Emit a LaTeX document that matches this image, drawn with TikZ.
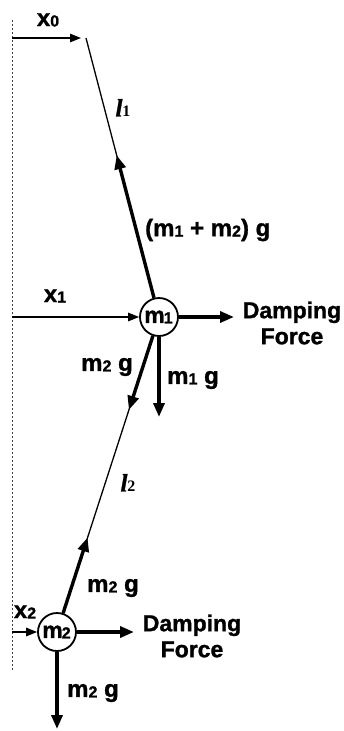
\documentclass[tikz,border=0pt]{standalone}
\usepackage{fontspec}
\setmainfont{Liberation Sans}[BoldFeatures={FakeBold=1.2}]
\newfontfamily\lfont{Liberation Serif}[BoldItalicFeatures={FakeBold=1}]
\usetikzlibrary{arrows.meta,calc}
\newcommand\sbx[1]{\raisebox{-0.5pt}{\fontsize{16}{16}\selectfont #1}}
\newcommand\sby[1]{\raisebox{-0.5pt}{\fontsize{16}{16}\selectfont #1}}
\begin{document}
\begin{tikzpicture}[x=1pt,y=-1pt,
  lbl/.style={font=\fontsize{24}{26}\selectfont\bfseries, inner sep=0pt},
  dlbl/.style={font=\fontsize{23}{26}\selectfont\bfseries, inner sep=0pt, align=center},
  mass/.style={circle, draw, line width=1.8pt, minimum size=38pt, inner sep=0pt, font=\fontsize{23}{23}\selectfont\bfseries},
  thin arrow/.style={line width=1.4pt, -{Triangle[length=11pt,width=8.5pt]}},
  force/.style={line width=3.4pt, -{Triangle[length=14pt,width=11pt]}},
  rod/.style={line width=1.3pt},
  wall/.style={line width=0.7pt, dash pattern=on 2pt off 2pt, black!75}]
\useasboundingbox (0,0) rectangle (343,731);
% wall
\coordinate (wt) at (12,20);
\coordinate (wb) at (12,670);
\draw[wall] (wt) -- (wb);
% pivot and masses
\coordinate (P) at (86,38);
\node[mass] (m1) at (159,317) {\kern-1pt m\kern-1pt\sbx{1}};
\node[mass] (m2) at (57,632) {\kern-1pt m\kern-1pt\sbx{2}};
% rods
\draw[rod] (P) -- (m1);
\draw[rod] (m1) -- (m2);
% x arrows
\coordinate (x0s) at (12,38);
\coordinate (x0e) at (81,38);
\draw[thin arrow] (x0s) -- (x0e);
\coordinate (x1s) at (12,317);
\draw[thin arrow] (x1s) -- (m1);
\coordinate (x2s) at (12,632);
\draw[thin arrow] (x2s) -- (m2);
% forces at m1
\draw[force] (m1) -- ($(m1)!0.58!(P)$);
\draw[force] (m1) -- ($(m1)!0.295!(m2)$);
\coordinate (m1g) at (159,417);
\draw[force] (m1.south) -- (m1g);
\coordinate (d1) at (234,317);
\draw[force] (m1.east) -- (d1);
% forces at m2
\draw[force] (m2) -- ($(m2)!0.30!(m1)$);
\coordinate (d2) at (134,632);
\draw[force] (m2.east) -- (d2);
\coordinate (m2g) at (57,729);
\draw[force] (m2.south) -- (m2g);
% labels
\node[lbl] (lx0) at (48,20) {x\sby{0}};
\node[font=\lfont\fontsize{25}{25}\selectfont\bfseries\itshape, inner sep=0pt] (ll1) at (123,108) {l\sbx{\upshape 1}};
\node[lbl, anchor=west] (lf1) at (145,230) {(m\sby{1} + m\sby{2}) g};
\node[lbl] (lx1) at (55,296) {x\sby{1}};
\node[dlbl] (ld1) at (292,323) {Damping\\Force};
\node[lbl] (lm2g1) at (107,367) {m\sby{2} g};
\node[lbl] (lm1g) at (193,380) {m\sby{1} g};
\node[font=\lfont\fontsize{25}{25}\selectfont\bfseries\itshape, inner sep=0pt] (ll2) at (128,483) {l\sbx{\upshape 2}};
\node[lbl] (lm2g2) at (113,588) {m\sby{2} g};
\node[lbl] (lx2) at (25,612) {x\sby{2}};
\node[dlbl] (ld2) at (192,636) {Damping\\Force};
\node[lbl] (lm2g3) at (93,693) {m\sby{2} g};
\end{tikzpicture}
\end{document}
